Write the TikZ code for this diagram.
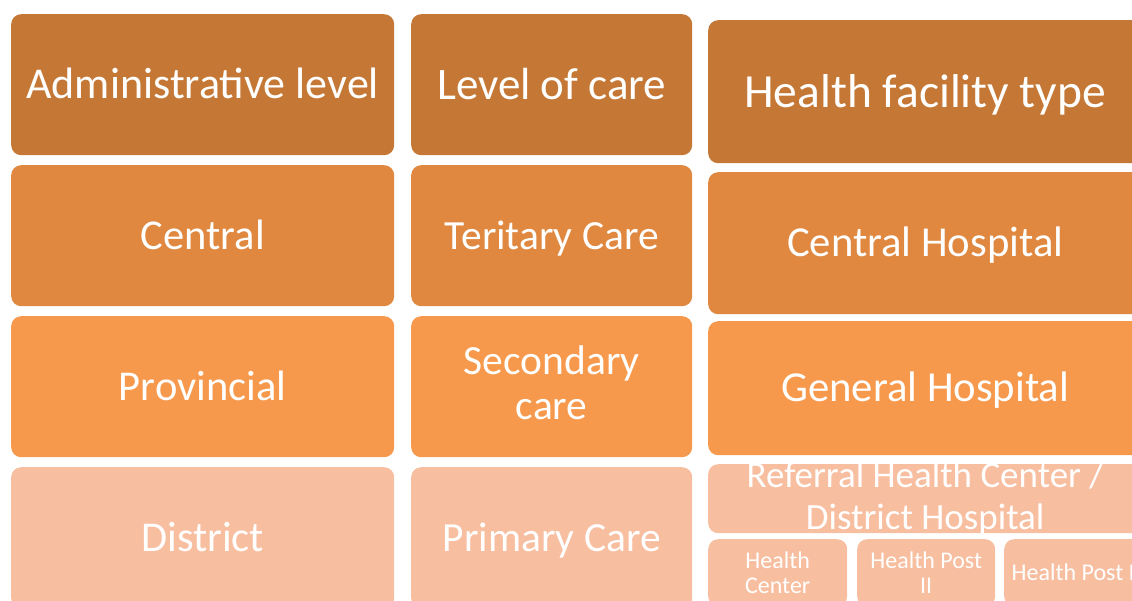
\documentclass[tikz,border=0pt]{standalone}
\usepackage{fontspec}
\setmainfont{Carlito}
\definecolor{tierA}{RGB}{197,120,53}
\definecolor{tierB}{RGB}{224,136,64}
\definecolor{tierC}{RGB}{247,153,76}
\definecolor{tierD}{RGB}{248,190,160}
\begin{document}
\begin{tikzpicture}[x=1pt,y=-1pt,
  cell/.style={rectangle, rounded corners=10pt, inner sep=0pt, draw=none, anchor=north west},
  lbl/.style={inner sep=0pt, text=white, align=center},
  one/.style={text height=#1, text depth=0pt},
  fA/.style={font=\fontsize{44}{48}\selectfont, one=28.3pt},
  fAr/.style={font=\fontsize{42.5}{46}\selectfont, one=27.4pt},
  fL/.style={font=\fontsize{45}{49}\selectfont, one=29pt},
  fB/.style={font=\fontsize{41.5}{45}\selectfont, one=26.7pt},
  fBm/.style={font=\fontsize{41.5}{45}\selectfont},
  fH/.style={font=\fontsize{47.5}{52}\selectfont, one=30.6pt},
  fC/.style={font=\fontsize{42.7}{46}\selectfont, one=27.5pt},
  fR/.style={font=\fontsize{37}{42}\selectfont},
  fS/.style={font=\fontsize{24}{25}\selectfont}]
\useasboundingbox (0,0) rectangle (1132,600);
\clip (0,0) rectangle (1132,600);

% column 1: administrative level
\node[cell, fill=tierA, minimum width=383pt, minimum height=141pt] (adm)  at (11,14)  {};
\node[cell, fill=tierB, minimum width=383pt, minimum height=141pt] (cen)  at (11,165) {};
\node[cell, fill=tierC, minimum width=383pt, minimum height=141pt] (prov) at (11,316) {};
\node[cell, fill=tierD, minimum width=383pt, minimum height=141pt] (dist) at (11,467) {};
\node[lbl, fA]  (admT)  at (adm.center)  {Administrative level};
\node[lbl, fAr] (cenT)  at (cen.center)  {Central};
\node[lbl, fAr] (provT) at (prov.center) {Provincial};
\node[lbl, fAr] (distT) at (dist.center) {District};

% column 2: level of care
\node[cell, fill=tierA, minimum width=281pt, minimum height=141pt] (loc)  at (411,14)  {};
\node[cell, fill=tierB, minimum width=281pt, minimum height=141pt] (ter)  at (411,165) {};
\node[cell, fill=tierC, minimum width=281pt, minimum height=141pt] (sec)  at (411,316) {};
\node[cell, fill=tierD, minimum width=281pt, minimum height=141pt] (prim) at (411,467) {};
\node[lbl, fL] (locT)  at (loc.center)  {Level of care};
\node[lbl, fB] (terT)  at (ter.center)  {Teritary Care};
\node[lbl, fBm, yshift=3.5pt] (secT) at (sec.center) {Secondary\\care};
\node[lbl, fB] (primT) at (prim.center) {Primary Care};

% column 3: health facility type
\node[cell, fill=tierA, minimum width=434pt, minimum height=143pt] (hft)  at (708,20)  {};
\node[cell, fill=tierB, minimum width=434pt, minimum height=142pt] (ch)   at (708,172) {};
\node[cell, fill=tierC, minimum width=434pt, minimum height=134pt] (gh)   at (708,321) {};
\node[cell, fill=tierD, minimum width=434pt, minimum height=69pt]  (rhc)  at (708,464) {};
\node[cell, fill=tierD, minimum width=139pt, minimum height=67pt]  (hc)   at (708,539) {};
\node[cell, fill=tierD, minimum width=138pt, minimum height=67pt]  (hp2)  at (857,539) {};
\node[cell, fill=tierD, minimum width=138pt, minimum height=67pt]  (hp1)  at (1004,539) {};
\node[lbl, fH] (hftT) at (hft.center) {Health facility type};
\node[lbl, fC] (chT)  at (ch.center)  {Central Hospital};
\node[lbl, fC] (ghT)  at (gh.center)  {General Hospital};
\node[lbl, fR] (rhcT) at (rhc.center) {Referral Health Center /\\District Hospital};
\node[lbl, fS] (hcT)  at (hc.center)  {Health\\Center};
\node[lbl, fS] (hp2T) at (hp2.center) {Health Post\\II};
\node[lbl, fS, one=15.4pt] (hp1T) at (hp1.center) {Health Post I};
\end{tikzpicture}
\end{document}
